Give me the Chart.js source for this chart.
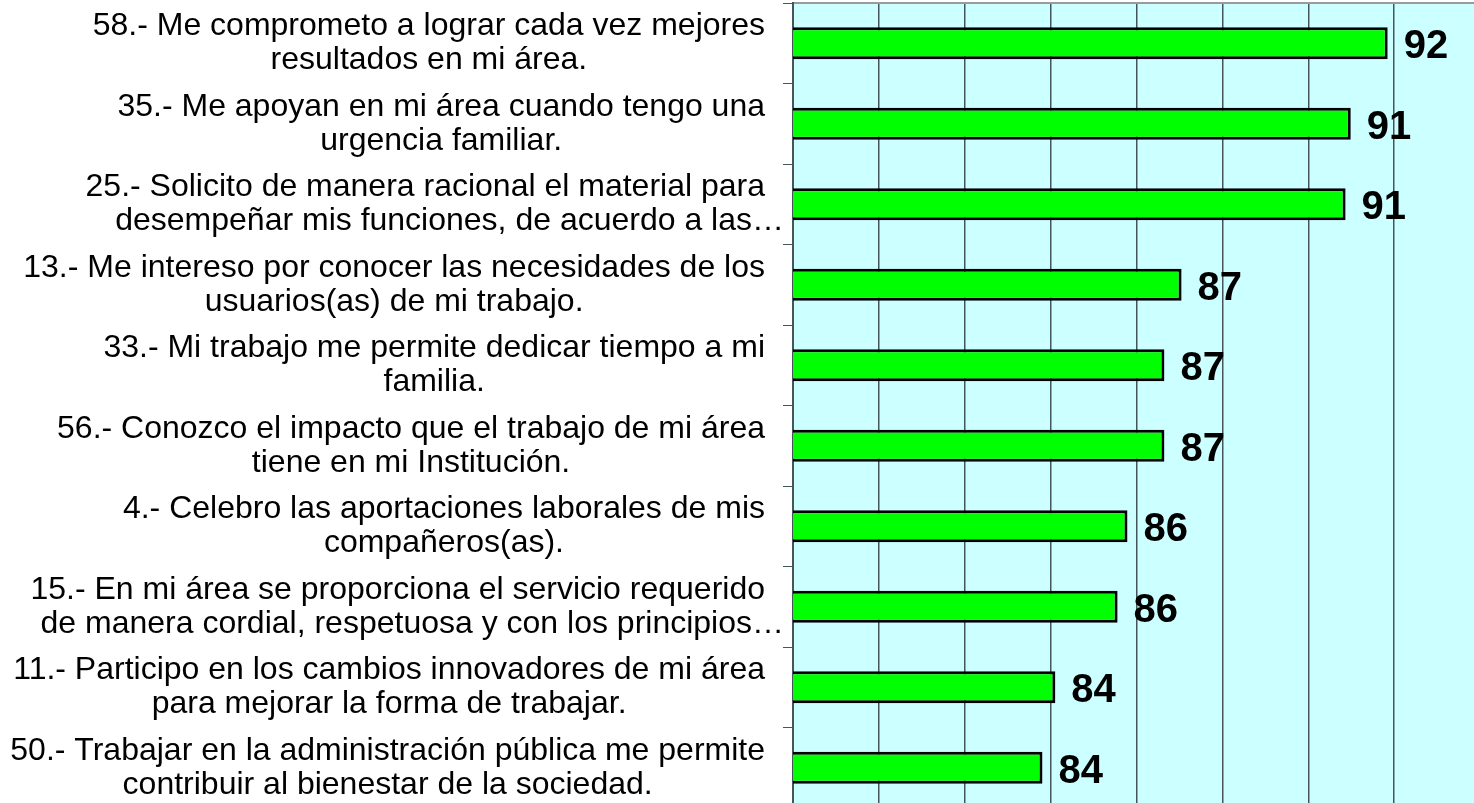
<!DOCTYPE html>
<html>
<head>
<meta charset="utf-8">
<script src="https://cdn.jsdelivr.net/npm/chart.js@4/dist/chart.umd.min.js"></script>
<style>
  html, body { margin: 0; padding: 0; background: #ffffff; overflow: hidden; }
  #wrap { position: absolute; left: 0; top: 0; width: 1480px; height: 808px; }
</style>
</head>
<body>
<div id="wrap"><canvas id="myChart" width="1480" height="808"></canvas></div>
<script>
// each reactivo as two wrapped lines
const reactivos = [
  ['58.- Me comprometo a lograr cada vez mejores', 'resultados en mi área.'],
  ['35.- Me apoyan en mi área cuando tengo una', 'urgencia familiar.'],
  ['25.- Solicito de manera racional el material para', 'desempeñar mis funciones, de acuerdo a las…'],
  ['13.- Me intereso por conocer las necesidades de los', 'usuarios(as) de mi trabajo.'],
  ['33.- Mi trabajo me permite dedicar tiempo a mi', 'familia.'],
  ['56.- Conozco el impacto que el trabajo de mi área', 'tiene en mi Institución.'],
  ['4.- Celebro las aportaciones laborales de mis', 'compañeros(as).'],
  ['15.- En mi área se proporciona el servicio requerido', 'de manera cordial, respetuosa y con los principios…'],
  ['11.- Participo en los cambios innovadores de mi área', 'para mejorar la forma de trabajar.'],
  ['50.- Trabajar en la administración pública me permite', 'contribuir al bienestar de la sociedad.']
];

const porcentajes = [91.85, 90.99, 90.87, 87.05, 86.65, 86.65, 85.79, 85.56, 84.11, 83.81];

const ejeMin = 78;
const ejeMax = 94;
const ejePaso = 2;

const labelFont = '32px "Liberation Sans", Arial, sans-serif';
const valueFont = 'bold 40px "Liberation Sans", Arial, sans-serif';

// category labels: lines centred on each other, block pushed to the right
const reactivoLabels = {
  id: 'reactivoLabels',
  afterDraw(chart) {
    const ctx = chart.ctx;
    const y = chart.scales.y;
    const rightEdge = 765;
    const lineH = 34;
    ctx.save();
    ctx.font = labelFont;
    ctx.fillStyle = '#000';
    ctx.textBaseline = 'middle';
    reactivos.forEach((lines, i) => {
      const cy = y.getPixelForValue(i);
      const full = lines.filter(l => !l.endsWith('…'));
      const widest = Math.max(...full.map(l => ctx.measureText(l).width));
      const center = rightEdge - widest / 2;
      lines.forEach((line, k) => {
        const ly = cy + (k - (lines.length - 1) / 2) * lineH;
        if (line.endsWith('…')) {
          ctx.textAlign = 'right';
          ctx.fillText(line, rightEdge + 19, ly);
        } else {
          ctx.textAlign = 'center';
          ctx.fillText(line, center, ly);
        }
      });
    });
    ctx.restore();
  }
};

// rounded value after the end of each bar
const barValues = {
  id: 'barValues',
  afterDatasetsDraw(chart) {
    const ctx = chart.ctx;
    const meta = chart.getDatasetMeta(0);
    ctx.save();
    ctx.font = valueFont;
    ctx.fillStyle = '#000';
    ctx.textAlign = 'left';
    ctx.textBaseline = 'alphabetic';
    meta.data.forEach((bar, i) => {
      ctx.fillText(Math.round(porcentajes[i]), bar.x + 16, bar.y + 15);
    });
    ctx.restore();
  }
};

const ctx = document.getElementById('myChart');

new Chart(ctx, {
  type: 'bar',
  data: {
    labels: reactivos,
    datasets: [
      {
        data: porcentajes,
        backgroundColor: '#00ff00',
        borderColor: '#000000',
        borderWidth: 3,
        borderSkipped: false,
        categoryPercentage: 0.5,
        barPercentage: 0.8
      }
    ]
  },
  options: {
    indexAxis: 'y',
    responsive: false,
    animation: false,
    layout: { padding: { top: 3, right: 0, bottom: 0, left: 0 } },
    plugins: {
      legend: { display: false },
      tooltip: { enabled: false }
    },
    scales: {
      x: {
        position: 'top',
        min: ejeMin,
        max: ejeMax,
        ticks: { display: false, stepSize: ejePaso },
        grid: { color: '#46555a', lineWidth: 1.5, drawTicks: false },
        border: { display: true, color: '#9a9a9a', width: 2 },
        afterFit: s => { s.height = 0; }
      },
      y: {
        ticks: { display: false },
        grid: { drawOnChartArea: false, drawTicks: true, tickLength: 10, color: '#46555a' },
        border: { display: true, color: '#46555a', width: 2 },
        afterFit: s => { s.width = 793; }
      }
    }
  },
  plugins: [
    {
      id: 'plotBackground',
      beforeDraw(chart) {
        const a = chart.chartArea;
        chart.ctx.save();
        chart.ctx.fillStyle = '#ccffff';
        chart.ctx.fillRect(a.left, a.top, a.right - a.left, a.bottom - a.top);
        chart.ctx.restore();
      }
    },
    barValues,
    reactivoLabels
  ]
});
</script>
</body>
</html>
